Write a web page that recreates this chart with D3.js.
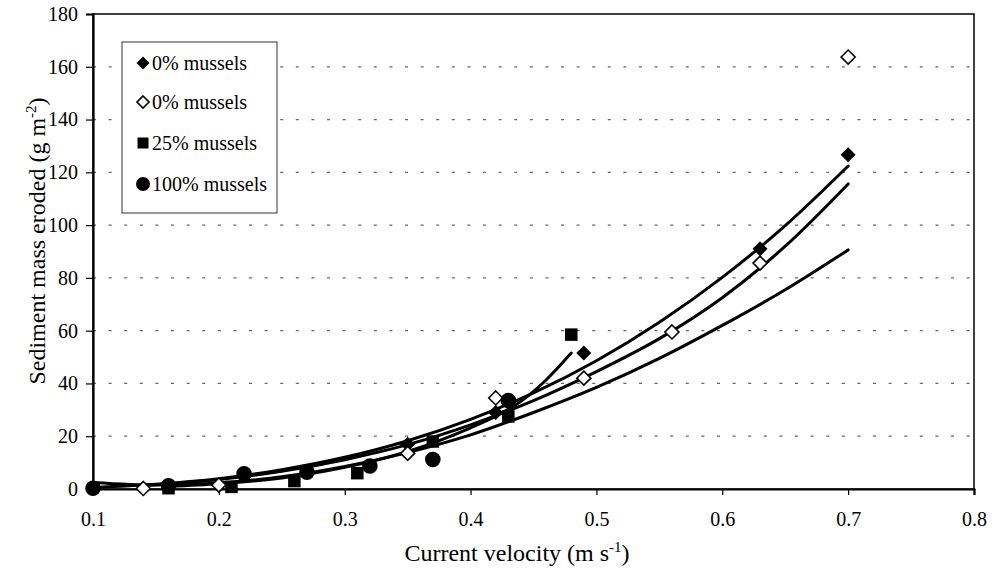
<!DOCTYPE html>
<html>
<head>
<meta charset="utf-8">
<script src="https://cdn.jsdelivr.net/npm/d3@7"></script>
<style>
  html, body { margin: 0; padding: 0; background: #fff; }
  svg { display: block; font-family: "Liberation Serif", "Times New Roman", serif; }
</style>
</head>
<body>
<svg id="chart" width="1005" height="578"></svg>
<script>
// Measured erosion: current velocity (m/s) vs sediment mass eroded (g/m2)
const seriesNames = ["0% mussels", "0% mussels", "25% mussels", "100% mussels"];

const filledDiamondX = [0.35, 0.42, 0.49, 0.63, 0.70];
const filledDiamondY = [17.0, 29.0, 51.5, 91.0, 126.7];

const openDiamondX = [0.14, 0.20, 0.35, 0.42, 0.49, 0.56, 0.63, 0.70];
const openDiamondY = [0.2, 1.5, 13.5, 34.5, 42.0, 59.5, 85.6, 163.7];

const squareX = [0.16, 0.21, 0.26, 0.31, 0.37, 0.43, 0.48];
const squareY = [0.3, 0.8, 3.0, 6.0, 18.0, 27.5, 58.5];

const circleX = [0.10, 0.16, 0.22, 0.27, 0.32, 0.37, 0.43];
const circleY = [0.3, 1.2, 5.8, 6.4, 8.7, 11.2, 33.5];

// Trend lines (sampled along each fitted curve)
const trend1X = [0.10, 0.15, 0.20, 0.25, 0.30, 0.35, 0.40, 0.45, 0.50, 0.55, 0.60, 0.65, 0.70];
const trend1Y = [0.6, 1.8, 3.9, 7.3, 12.0, 18.3, 26.4, 36.4, 48.6, 63.2, 80.2, 99.8, 122.4];

const trend2X = [0.14, 0.20, 0.25, 0.30, 0.35, 0.40, 0.45, 0.50, 0.55, 0.60, 0.65, 0.70];
const trend2Y = [1.3, 3.6, 6.7, 11.1, 16.8, 24.3, 33.5, 44.5, 57.0, 72.5, 92.0, 115.6];

const trend3X = [0.10, 0.15, 0.20, 0.25, 0.30, 0.35, 0.40, 0.45, 0.50, 0.55, 0.60, 0.65, 0.70];
const trend3Y = [2.5, 1.5, 2.3, 4.6, 8.5, 13.8, 20.5, 29.0, 38.5, 49.5, 62.0, 75.5, 90.6];

const trend4X = [0.16, 0.20, 0.25, 0.30, 0.35, 0.40, 0.42, 0.44, 0.46, 0.48];
const trend4Y = [1.0, 2.0, 4.2, 8.2, 14.2, 23.2, 27.6, 33.2, 41.3, 51.5];

const xTicks = [0.1, 0.2, 0.3, 0.4, 0.5, 0.6, 0.7, 0.8];
const yTicks = [0, 20, 40, 60, 80, 100, 120, 140, 160, 180];

const svg = d3.select("#chart");
const plotLeft = 93, plotRight = 974, plotTop = 14, plotBottom = 489;

const x = d3.scaleLinear().domain([0.1, 0.8]).range([plotLeft, plotRight]);
const y = d3.scaleLinear().domain([0, 180]).range([plotBottom, plotTop]);

// Dotted horizontal gridlines
svg.append("g")
  .selectAll("line")
  .data(yTicks.filter(v => v > 0 && v < 180))
  .join("line")
  .attr("x1", plotLeft).attr("x2", plotRight)
  .attr("y1", d => y(d)).attr("y2", d => y(d))
  .attr("stroke", "#666")
  .attr("stroke-width", 1.3)
  .attr("stroke-dasharray", "3,12.6");

// Plot frame
svg.append("rect")
  .attr("x", plotLeft).attr("y", plotTop)
  .attr("width", plotRight - plotLeft).attr("height", plotBottom - plotTop)
  .attr("fill", "none").attr("stroke", "#000").attr("stroke-width", 1.5);

// Axes
const yAxis = svg.append("g")
  .attr("transform", `translate(${plotLeft},0)`)
  .call(d3.axisLeft(y).tickValues(yTicks).tickSize(7).tickPadding(8).tickFormat(d3.format("d")));
const xAxis = svg.append("g")
  .attr("transform", `translate(0,${plotBottom})`)
  .call(d3.axisBottom(x).tickValues(xTicks).tickSize(6).tickPadding(17).tickFormat(d3.format(".1f")));

[yAxis, xAxis].forEach(g => {
  g.select(".domain").attr("stroke", "#000").attr("stroke-width", 2.2);
  g.selectAll(".tick line").attr("stroke", "#000").attr("stroke-width", 1.2);
  g.selectAll("text")
    .attr("fill", "#000")
    .style("font-family", "'Liberation Serif', serif")
    .style("font-size", "20px");
});

// Trend lines
const line = d3.line().x(d => x(d[0])).y(d => y(d[1])).curve(d3.curveMonotoneX);
const trends = [
  d3.zip(trend1X, trend1Y),
  d3.zip(trend2X, trend2Y),
  d3.zip(trend3X, trend3Y),
  d3.zip(trend4X, trend4Y)
];
svg.append("g")
  .selectAll("path")
  .data(trends)
  .join("path")
  .attr("d", line)
  .attr("fill", "none")
  .attr("stroke", "#000")
  .attr("stroke-width", 3)
  .attr("stroke-linecap", "round");

// Marker shapes
const diamondPath = r => `M0,${-r}L${r},0L0,${r}L${-r},0Z`;
const squarePath = s => `M${-s/2},${-s/2}h${s}v${s}h${-s}Z`;
const circlePath = r => d3.symbol(d3.symbolCircle, Math.PI * r * r)();

const markerStyles = [
  { shape: diamondPath(7.5), fill: "#000", stroke: "none", sw: 0 },
  { shape: diamondPath(7.0), fill: "#fff", stroke: "#000", sw: 1.6 },
  { shape: squarePath(12.5), fill: "#000", stroke: "none", sw: 0 },
  { shape: circlePath(7.8), fill: "#000", stroke: "none", sw: 0 }
];

const pointSets = [
  d3.zip(filledDiamondX, filledDiamondY),
  d3.zip(openDiamondX, openDiamondY),
  d3.zip(squareX, squareY),
  d3.zip(circleX, circleY)
];

pointSets.forEach((pts, i) => {
  const st = markerStyles[i];
  svg.append("g")
    .selectAll("path")
    .data(pts)
    .join("path")
    .attr("d", st.shape)
    .attr("transform", d => `translate(${x(d[0])},${y(d[1])})`)
    .attr("fill", st.fill)
    .attr("stroke", st.stroke)
    .attr("stroke-width", st.sw);
});

// Legend
const legend = svg.append("g");
legend.append("rect")
  .attr("x", 122).attr("y", 42).attr("width", 155).attr("height", 171)
  .attr("fill", "#fff").attr("stroke", "#333").attr("stroke-width", 1);
const legendRows = [63, 102, 143, 184];
seriesNames.forEach((name, i) => {
  const st = markerStyles[i];
  legend.append("path")
    .attr("d", i === 3 ? circlePath(7) : (i === 2 ? squarePath(11) : diamondPath(i === 1 ? 6 : 6.5)))
    .attr("transform", `translate(143,${legendRows[i]})`)
    .attr("fill", st.fill).attr("stroke", st.stroke).attr("stroke-width", st.sw);
  legend.append("text")
    .attr("x", 152).attr("y", legendRows[i] + 6.5)
    .style("font-size", "20px")
    .text(name);
});

// Axis titles
const xTitle = svg.append("text")
  .attr("x", 517).attr("y", 561)
  .attr("text-anchor", "middle")
  .style("font-size", "24px");
xTitle.append("tspan").text("Current velocity (m s");
xTitle.append("tspan").attr("dy", -9).style("font-size", "15px").text("-1");
xTitle.append("tspan").attr("dy", 9).text(")");

const yTitle = svg.append("text")
  .attr("transform", "translate(45,241) rotate(-90)")
  .attr("text-anchor", "middle")
  .style("font-size", "24px");
yTitle.append("tspan").text("Sediment mass eroded (g m");
yTitle.append("tspan").attr("dy", -9).style("font-size", "15px").text("-2");
yTitle.append("tspan").attr("dy", 9).text(")");
</script>
</body>
</html>
